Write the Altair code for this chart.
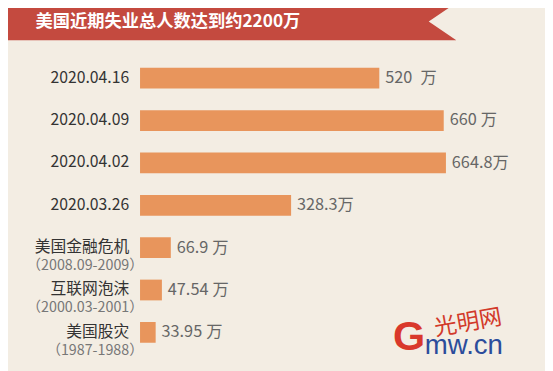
import altair as alt
import pandas as pd

title_text = "美国近期失业总人数达到约2200万"
categories = ["2020.04.16", "2020.04.09", "2020.04.02", "2020.03.26", "美国金融危机", "互联网泡沫", "美国股灾"]
sublabels = ["", "", "", "", "（2008.09-2009）", "（2000.03-2001）", "（1987-1988）"]
values = [520, 660, 664.8, 328.3, 66.9, 47.54, 33.95]
value_labels = ["520\u2002万", "660\u2005万", "664.8万", "328.3万", "66.9\u2005万", "47.54\u2005万", "33.95\u2005万"]

BG = "#F3EDE3"
RED = "#C44A3F"
BAR = "#E8955C"
FONT = "Noto Sans CJK SC"

df = pd.DataFrame({"cat": categories, "sub": sublabels, "val": values, "lab": value_labels})
one = pd.DataFrame({"k": [0]})

yenc = alt.Y("cat:N", sort=categories, axis=None,
             scale=alt.Scale(range=[47, 348], paddingInner=0.51, paddingOuter=0.255))
xscale = alt.Scale(domain=[0, 700], range=[134, 134 + 700 * 0.467], nice=False)

banner = alt.Chart(one).mark_point(
    shape="M -20 -20 L 455 -20 L 455 -8 L 427 11 L 455 30 L -20 30 Z",
    size=4, filled=True, color=RED, opacity=1, strokeWidth=0
).encode(x=alt.value(0), y=alt.value(0))

title = alt.Chart(one).mark_text(
    align="left", baseline="middle", font=FONT, fontSize=17.5, fontWeight="bold", color="white"
).encode(x=alt.value(28), y=alt.value(11.5), text=alt.value(title_text))

bars = alt.Chart(df).mark_bar(color=BAR).encode(
    y=yenc,
    x=alt.X("val:Q", scale=xscale, axis=None),
    x2=alt.datum(0),
)

vlabels = alt.Chart(df).mark_text(
    align="left", baseline="middle", dx=6, font=FONT, fontSize=16.5, color="#666666"
).encode(y=yenc, x=alt.X("val:Q", scale=xscale, axis=None), text="lab:N")

names = alt.Chart(df).mark_text(
    align="right", baseline="middle", dy=-0.5, font=FONT, fontSize=16, color="#333333"
).encode(y=yenc, x=alt.value(123), text="cat:N")

subs = alt.Chart(df).mark_text(
    align="right", baseline="middle", dy=18.5, font=FONT, fontSize=14.5, color="#777777"
).encode(y=yenc, x=alt.value(137.5), text="sub:N")

logo_g = alt.Chart(one).mark_text(
    align="center", baseline="middle", font="Liberation Sans", fontSize=42, fontWeight="bold", color="#D9382B"
).encode(x=alt.value(407), y=alt.value(331), text=alt.value("G"))

logo_mw = alt.Chart(one).mark_text(
    align="left", baseline="alphabetic", font="Liberation Sans", fontSize=28, color="#2B4C9B"
).encode(x=alt.value(423), y=alt.value(348), text=alt.value("mw.cn"))

logo_cn = alt.Chart(one).mark_text(
    align="center", baseline="middle", font=FONT, fontSize=23, color="#D23A2A", angle=350
).encode(x=alt.value(467), y=alt.value(317), text=alt.value("光明网"))

chart = alt.layer(banner, title, bars, vlabels, names, subs, logo_g, logo_mw, logo_cn).properties(
    width=545, height=363, autosize="none", padding=0, background=BG
).configure_view(stroke=None)

chart.save("out.html", embed_options={"renderer": "svg", "actions": False})
